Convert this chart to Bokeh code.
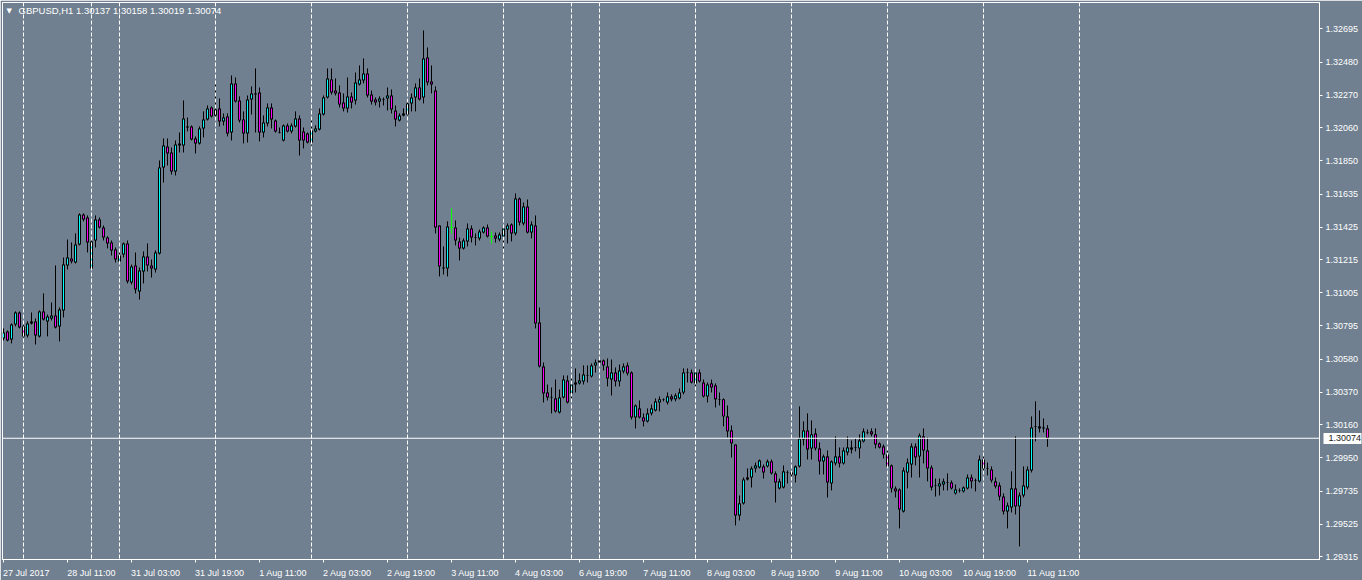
from bokeh.plotting import figure
from bokeh.models import (Range1d, FixedTicker, NumeralTickFormatter, Span, Label,
                          ColumnDataSource, LinearAxis)
from bokeh.embed import file_html
from bokeh.resources import INLINE

symbol_header = "GBPUSD,H1  1.30137 1.30158 1.30019 1.30074"
last_price = 1.30074

opens = [
1.30713,1.30758,1.30706,1.30802,1.30879,1.30790,1.30732,1.30809,1.30822,1.30726,
1.30886,1.30822,1.30841,1.30860,1.30790,1.30892,1.31180,1.31225,1.31199,1.31314,
1.31506,1.31487,1.31161,1.31340,1.31474,1.31423,1.31359,1.31327,1.31282,1.31206,
1.31250,1.31321,1.31071,1.31180,1.31014,1.31142,1.31238,1.31180,1.31154,1.31257,
1.31807,1.31942,1.31903,1.31782,1.31961,1.31948,1.32070,1.32070,1.31993,1.31961,
1.32057,1.32114,1.32191,1.32140,1.32185,1.32102,1.32134,1.32031,1.32345,1.32236,
1.32114,1.32025,1.32242,1.32281,1.32287,1.32031,1.32089,1.32191,1.32108,1.32031,
1.31980,1.32076,1.32038,1.32070,1.32121,1.32038,1.32025,1.31967,1.32038,1.32050,
1.32146,1.32255,1.32370,1.32300,1.32287,1.32223,1.32185,1.32262,1.32236,1.32338,
1.32364,1.32409,1.32274,1.32242,1.32230,1.32242,1.32249,1.32268,1.32172,1.32108,
1.32140,1.32146,1.32217,1.32255,1.32319,1.32255,1.32511,1.32358,1.32300,1.31436,
1.31161,1.31161,1.31423,1.31423,1.31334,1.31289,1.31334,1.31417,1.31359,1.31353,
1.31391,1.31423,1.31366,1.31372,1.31346,1.31366,1.31410,1.31442,1.31385,1.31609,
1.31449,1.31558,1.31391,1.31436,1.30815,1.30534,1.30367,1.30335,1.30329,1.30239,
1.30335,1.30444,1.30361,1.30418,1.30425,1.30438,1.30476,1.30470,1.30540,1.30559,
1.30572,1.30534,1.30450,1.30495,1.30438,1.30502,1.30540,1.30495,1.30207,1.30265,
1.30207,1.30182,1.30233,1.30252,1.30303,1.30323,1.30303,1.30342,1.30323,1.30329,
1.30367,1.30495,1.30495,1.30425,1.30495,1.30431,1.30342,1.30425,1.30412,1.30323,
1.30323,1.30214,1.30124,1.30034,1.29580,1.29657,1.29810,1.29823,1.29881,1.29887,
1.29894,1.29894,1.29926,1.29849,1.29753,1.29759,1.29855,1.29855,1.29836,1.29894,
1.30066,1.30124,1.30009,1.30105,1.30009,1.29926,1.29958,1.29785,1.29913,1.29958,
1.29913,1.29983,1.30002,1.30015,1.30009,1.30054,1.30111,1.30118,1.30099,1.30041,
1.30022,1.29970,1.29900,1.29753,1.29746,1.29606,1.29855,1.29906,1.30022,1.29958,
1.30086,1.29996,1.29887,1.29772,1.29766,1.29778,1.29791,1.29791,1.29721,1.29740,
1.29734,1.29753,1.29823,1.29804,1.29798,1.29938,1.29881,1.29874,1.29798,1.29772,
1.29701,1.29606,1.29631,1.29753,1.29638,1.29708,1.29759,1.29868,1.30150,1.30150,
1.30137,1.30137]

highs = [
1.30777,1.30764,1.30809,1.30886,1.30886,1.30802,1.30822,1.30879,1.30841,1.30892,
1.31001,1.30866,1.30943,1.31180,1.30911,1.31231,1.31346,1.31327,1.31385,1.31513,
1.31513,1.31500,1.31346,1.31500,1.31487,1.31436,1.31366,1.31340,1.31295,1.31263,
1.31327,1.31340,1.31186,1.31263,1.31167,1.31270,1.31321,1.31218,1.31276,1.31852,
1.31993,1.31993,1.31935,1.31980,1.32031,1.32236,1.32127,1.32076,1.32006,1.32070,
1.32166,1.32204,1.32198,1.32345,1.32249,1.32153,1.32153,1.32396,1.32383,1.32262,
1.32166,1.32268,1.32326,1.32441,1.32319,1.32140,1.32217,1.32217,1.32114,1.32063,
1.32082,1.32089,1.32089,1.32166,1.32140,1.32063,1.32031,1.32127,1.32076,1.32185,
1.32268,1.32441,1.32441,1.32377,1.32332,1.32281,1.32383,1.32287,1.32415,1.32460,
1.32505,1.32441,1.32300,1.32255,1.32262,1.32255,1.32319,1.32306,1.32204,1.32153,
1.32185,1.32249,1.32281,1.32345,1.32377,1.32684,1.32575,1.32460,1.32326,1.31436,
1.31302,1.31462,1.31545,1.31468,1.31359,1.31353,1.31449,1.31436,1.31385,1.31410,
1.31430,1.31442,1.31398,1.31391,1.31391,1.31436,1.31449,1.31449,1.31641,1.31615,
1.31583,1.31602,1.31462,1.31500,1.30911,1.30559,1.30418,1.30399,1.30450,1.30386,
1.30476,1.30476,1.30457,1.30521,1.30489,1.30540,1.30540,1.30553,1.30578,1.30585,
1.30578,1.30585,1.30578,1.30527,1.30546,1.30553,1.30559,1.30502,1.30290,1.30316,
1.30233,1.30265,1.30290,1.30329,1.30342,1.30329,1.30367,1.30355,1.30361,1.30393,
1.30521,1.30521,1.30514,1.30514,1.30514,1.30450,1.30431,1.30450,1.30425,1.30367,
1.30329,1.30284,1.30156,1.30034,1.29708,1.29823,1.29881,1.29894,1.29919,1.29938,
1.29906,1.29938,1.29938,1.29862,1.29816,1.29900,1.29868,1.29868,1.29900,1.30278,
1.30182,1.30233,1.30188,1.30137,1.30047,1.29970,1.29996,1.29932,1.30086,1.30015,
1.30015,1.30086,1.30060,1.30073,1.30099,1.30137,1.30130,1.30137,1.30137,1.30047,
1.30034,1.29996,1.29906,1.29766,1.29753,1.29887,1.29945,1.30041,1.30041,1.30105,
1.30137,1.30079,1.29900,1.29816,1.29816,1.29816,1.29849,1.29804,1.29778,1.29753,
1.29766,1.29842,1.29842,1.29816,1.29964,1.29970,1.29919,1.29894,1.29823,1.29791,
1.29721,1.29663,1.29862,1.30086,1.29727,1.29894,1.29894,1.30214,1.30310,1.30252,
1.30201,1.30158]

lows = [
1.30700,1.30694,1.30681,1.30790,1.30777,1.30719,1.30719,1.30802,1.30674,1.30719,
1.30828,1.30726,1.30828,1.30777,1.30694,1.30847,1.31154,1.31193,1.31193,1.31308,
1.31462,1.31263,1.31154,1.31295,1.31417,1.31340,1.31289,1.31244,1.31199,1.31193,
1.31231,1.31065,1.31058,1.31001,1.30962,1.31065,1.31142,1.31103,1.31135,1.31250,
1.31711,1.31820,1.31762,1.31756,1.31903,1.31903,1.32038,1.31980,1.31897,1.31954,
1.31999,1.32108,1.32127,1.32121,1.32070,1.32076,1.32006,1.31980,1.32223,1.32095,
1.31961,1.31967,1.32146,1.32031,1.31974,1.31999,1.32070,1.32057,1.32031,1.32025,
1.31974,1.32031,1.32025,1.32063,1.31884,1.31929,1.31961,1.31948,1.32031,1.32044,
1.32140,1.32249,1.32274,1.32268,1.32191,1.32166,1.32159,1.32185,1.32210,1.32332,
1.32345,1.32255,1.32210,1.32204,1.32191,1.32204,1.32172,1.32153,1.32070,1.32102,
1.32134,1.32140,1.32166,1.32166,1.32236,1.32217,1.32332,1.32281,1.31385,1.31110,
1.31122,1.31110,1.31385,1.31308,1.31212,1.31282,1.31302,1.31327,1.31308,1.31340,
1.31385,1.31359,1.31321,1.31327,1.31334,1.31270,1.31321,1.31334,1.31372,1.31436,
1.31436,1.31385,1.31353,1.30777,1.30527,1.30303,1.30316,1.30233,1.30239,1.30233,
1.30329,1.30297,1.30329,1.30367,1.30418,1.30418,1.30431,1.30463,1.30495,1.30540,
1.30508,1.30406,1.30348,1.30406,1.30406,1.30489,1.30476,1.30194,1.30137,1.30201,
1.30150,1.30175,1.30220,1.30246,1.30246,1.30310,1.30290,1.30310,1.30310,1.30323,
1.30355,1.30431,1.30425,1.30406,1.30431,1.30335,1.30303,1.30367,1.30271,1.30284,
1.30150,1.30079,1.29951,1.29516,1.29548,1.29650,1.29804,1.29759,1.29855,1.29881,
1.29816,1.29887,1.29842,1.29663,1.29746,1.29753,1.29785,1.29810,1.29791,1.29887,
1.30028,1.29938,1.29938,1.29996,1.29842,1.29842,1.29695,1.29740,1.29900,1.29887,
1.29906,1.29964,1.29977,1.29990,1.29945,1.30047,1.30099,1.30086,1.30009,1.30009,
1.29945,1.29887,1.29727,1.29695,1.29497,1.29599,1.29753,1.29823,1.29900,1.29823,
1.29913,1.29798,1.29740,1.29701,1.29708,1.29740,1.29740,1.29746,1.29714,1.29727,
1.29727,1.29746,1.29753,1.29734,1.29791,1.29862,1.29836,1.29791,1.29753,1.29676,
1.29586,1.29497,1.29599,1.29586,1.29382,1.29695,1.29746,1.29855,1.30054,1.30111,
1.30111,1.30019]

closes = [
1.30751,1.30700,1.30802,1.30879,1.30783,1.30726,1.30809,1.30822,1.30732,1.30886,
1.30834,1.30854,1.30860,1.30783,1.30898,1.31186,1.31231,1.31206,1.31314,1.31506,
1.31474,1.31327,1.31334,1.31474,1.31423,1.31359,1.31321,1.31276,1.31218,1.31244,
1.31321,1.31078,1.31174,1.31026,1.31148,1.31238,1.31180,1.31161,1.31263,1.31807,
1.31948,1.31897,1.31782,1.31954,1.31948,1.32121,1.32063,1.31986,1.31961,1.32057,
1.32114,1.32185,1.32134,1.32178,1.32102,1.32127,1.32025,1.32345,1.32230,1.32108,
1.32025,1.32242,1.32281,1.32274,1.32031,1.32095,1.32191,1.32114,1.32038,1.32034,
1.32076,1.32038,1.32076,1.32121,1.31980,1.31980,1.31967,1.32044,1.32057,1.32153,
1.32255,1.32377,1.32287,1.32281,1.32210,1.32185,1.32262,1.32223,1.32351,1.32370,
1.32409,1.32268,1.32230,1.32223,1.32249,1.32245,1.32268,1.32178,1.32114,1.32140,
1.32153,1.32217,1.32255,1.32319,1.32242,1.32505,1.32351,1.32338,1.31423,1.31174,
1.31167,1.31430,1.31423,1.31340,1.31289,1.31340,1.31417,1.31359,1.31356,1.31398,
1.31423,1.31366,1.31366,1.31353,1.31378,1.31417,1.31436,1.31385,1.31609,1.31455,
1.31558,1.31391,1.31442,1.30809,1.30534,1.30361,1.30335,1.30332,1.30246,1.30335,
1.30450,1.30303,1.30418,1.30431,1.30444,1.30482,1.30473,1.30540,1.30559,1.30572,
1.30540,1.30457,1.30495,1.30438,1.30508,1.30534,1.30489,1.30207,1.30284,1.30207,
1.30182,1.30233,1.30265,1.30310,1.30323,1.30320,1.30342,1.30323,1.30348,1.30367,
1.30495,1.30492,1.30431,1.30495,1.30438,1.30342,1.30418,1.30399,1.30323,1.30320,
1.30214,1.30118,1.30041,1.29580,1.29657,1.29810,1.29823,1.29881,1.29900,1.29932,
1.29855,1.29926,1.29849,1.29791,1.29798,1.29862,1.29852,1.29842,1.29894,1.30073,
1.30124,1.30002,1.30099,1.30009,1.29926,1.29958,1.29791,1.29926,1.29958,1.29913,
1.29996,1.30015,1.30015,1.30018,1.30060,1.30118,1.30108,1.30099,1.30034,1.30015,
1.29970,1.29894,1.29753,1.29734,1.29618,1.29868,1.29919,1.30022,1.29951,1.30092,
1.29996,1.29881,1.29759,1.29769,1.29785,1.29798,1.29788,1.29753,1.29746,1.29743,
1.29759,1.29823,1.29798,1.29801,1.29938,1.29881,1.29878,1.29804,1.29766,1.29701,
1.29606,1.29644,1.29753,1.29638,1.29708,1.29772,1.29874,1.30143,1.30147,1.30137,
1.30143,1.30074]

time_tick_bars = [0, 16, 32, 48, 64, 80, 96, 112, 128, 144, 160, 176, 192, 208, 224, 240, 256]
time_tick_labels = ["27 Jul 2017", "28 Jul 11:00", "31 Jul 03:00", "31 Jul 19:00", "1 Aug 11:00",
                    "2 Aug 03:00", "2 Aug 19:00", "3 Aug 11:00", "4 Aug 03:00", "6 Aug 19:00",
                    "7 Aug 11:00", "8 Aug 03:00", "8 Aug 19:00", "9 Aug 11:00", "10 Aug 03:00",
                    "10 Aug 19:00", "11 Aug 11:00"]
separator_bars = [5, 22, 29, 53, 77, 101, 125, 142, 149, 173, 197, 221, 245, 269]
price_ticks = [1.29315, 1.29525, 1.29735, 1.29950, 1.30160, 1.30370, 1.30580, 1.30795, 1.31005,
               1.31215, 1.31425, 1.31635, 1.31850, 1.32060, 1.32270, 1.32480, 1.32695]

# ---- styling / layout ----
BG = "#708090"
UP = "#00ffff"
DOWN = "#ff00ff"
DOJI = "#00ff00"
FONT = "Liberation Sans"
FONT_PX = 9
BAR_PX = 4.0
FRAME_W, FRAME_H = 1317, 557
X0 = -0.25
X1 = X0 + FRAME_W / BAR_PX
Y_LO, Y_HI = 1.29298, 1.32863
PX = (Y_HI - Y_LO) / FRAME_H   # price per pixel
AXIS_W = 39                    # width taken by the price axis (tick + gap + label)

n = len(closes)
idx = list(range(n))
o_top, o_bot, o_col = [], [], []
i_x, i_top, i_bot, i_col = [], [], [], []
wick = []
for k, (o, c) in enumerate(zip(opens, closes)):
    hi, lo = max(o, c), min(o, c)
    if o == c:
        wick.append(DOJI)
        o_top.append(hi + PX / 2); o_bot.append(lo - PX / 2); o_col.append(DOJI)
        continue
    wick.append("black")
    o_top.append(hi); o_bot.append(lo); o_col.append("black")
    if hi - lo > 2 * PX:
        i_x.append(k); i_top.append(hi - PX); i_bot.append(lo + PX)
        i_col.append(UP if c > o else DOWN)

wsrc = ColumnDataSource(dict(x=idx, high=highs, low=lows, wick=wick,
                             top=o_top, bottom=o_bot, col=o_col))
isrc = ColumnDataSource(dict(x=i_x, top=i_top, bottom=i_bot, col=i_col))

p = figure(frame_width=FRAME_W, frame_height=FRAME_H, output_backend="svg", toolbar_location=None,
           x_range=Range1d(X0, X1), y_range=Range1d(Y_LO, Y_HI),
           y_axis_location="right", min_border_left=2, min_border_top=2,
           min_border_right=0, min_border_bottom=0,
           background_fill_color=BG, border_fill_color=BG,
           outline_line_color="white", outline_line_width=1)
p.grid.visible = False

for b in separator_bars:
    p.add_layout(Span(location=b, dimension="height", line_color="white",
                      line_width=1, line_dash="4 2"))

p.segment(x0="x", y0="low", x1="x", y1="high", line_color="wick", line_width=1, source=wsrc)
p.vbar(x="x", width=3 / BAR_PX, top="top", bottom="bottom", fill_color="col",
       line_color=None, source=wsrc)
p.vbar(x="x", width=1 / BAR_PX, top="top", bottom="bottom", fill_color="col",
       line_color=None, source=isrc)

p.add_layout(Span(location=last_price, dimension="width", line_color="white", line_width=1))

# ---- x axis: short tick at the bar, label text starting at the tick ----
CW = {" ": 2.5, ":": 2.5, ".": 2.5, "J": 4.5, "u": 5.0, "l": 2.0, "A": 6.0, "g": 5.0}
def text_w(s):
    return sum(CW.get(ch, 5.0) for ch in s) * FONT_PX / 9.0

lbl_pos = [b + (text_w(t) / 2 - 0.6) / BAR_PX for b, t in zip(time_tick_bars, time_tick_labels)]
xa = p.xaxis[0]
xa.ticker = FixedTicker(ticks=lbl_pos, minor_ticks=time_tick_bars)
xa.major_label_overrides = {pp: t for pp, t in zip(lbl_pos, time_tick_labels)}
xa.axis_line_color = "white"
xa.major_tick_line_color = None
xa.major_tick_in = 0
xa.major_tick_out = 0
xa.minor_tick_line_color = "white"
xa.minor_tick_in = 0
xa.minor_tick_out = 3
xa.major_label_standoff = 5
xa.major_label_text_color = "white"
xa.major_label_text_font = FONT
xa.major_label_text_font_size = f"{FONT_PX}px"

# ---- price axis ----
ya = p.yaxis[0]
ya.ticker = FixedTicker(ticks=price_ticks)
ya.formatter = NumeralTickFormatter(format="0.00000")
ya.axis_line_color = "white"
ya.major_tick_line_color = "white"
ya.major_tick_in = 0
ya.major_tick_out = 3
ya.minor_tick_line_color = None
ya.minor_tick_in = 0
ya.minor_tick_out = 0
ya.major_label_standoff = 3
ya.major_label_text_color = "white"
ya.major_label_text_font = FONT
ya.major_label_text_font_size = f"{FONT_PX}px"

# ---- last-price marker: second axis stacked after the price axis, drawing its
# white box inward (over the price axis area) and its dark label on top of it ----
yp = LinearAxis(ticker=FixedTicker(ticks=[last_price], minor_ticks=[last_price]),
                formatter=NumeralTickFormatter(format="0.00000"))
yp.axis_line_color = None
yp.major_tick_line_color = None
yp.major_tick_in = 0
yp.major_tick_out = 0
yp.minor_tick_line_color = "white"
yp.minor_tick_line_width = 11
yp.minor_tick_in = AXIS_W - 1
yp.minor_tick_out = 0
yp.major_label_standoff = -(AXIS_W - 6)
yp.major_label_text_color = "#1a1a1a"
yp.major_label_text_font = FONT
yp.major_label_text_font_size = f"{FONT_PX}px"
p.add_layout(yp, "right")

p.add_layout(Label(x=4, y=FRAME_H - 8, x_units="screen", y_units="screen", text="\u25bc",
                   text_font="DejaVu Sans", text_font_size="7px", text_color="white",
                   text_baseline="middle"))
p.add_layout(Label(x=16, y=FRAME_H - 8, x_units="screen", y_units="screen", text=symbol_header,
                   text_font=FONT, text_font_size="9.5px", text_color="white",
                   text_baseline="middle"))

open("out.html", "w").write(file_html(p, INLINE))
